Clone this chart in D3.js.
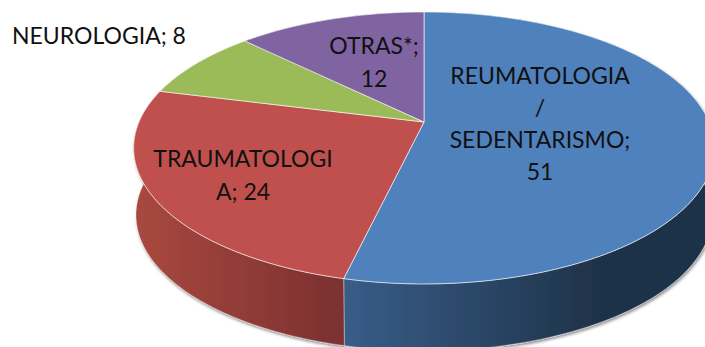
<!DOCTYPE html>
<html>
<head>
<meta charset="utf-8">
<script src="https://cdn.jsdelivr.net/npm/d3@7"></script>
<style>
    html, body { margin: 0; padding: 0; background: #fff; }
    svg { display: block; }
    text { font-family: Lato, "Open Sans", sans-serif; font-size: 23px; fill: #111; }
</style>
</head>
<body>
<div id="chart"></div>
<script>
// Chart data
const categories = ["REUMATOLOGIA / SEDENTARISMO", "TRAUMATOLOGIA", "NEUROLOGIA", "OTRAS*"];
const values = [51, 24, 8, 12];
const labelLines = [
    ["REUMATOLOGIA", "/", "SEDENTARISMO;", "51"],
    ["TRAUMATOLOGI", "A; 24"],
    ["NEUROLOGIA; 8"],
    ["OTRAS*;", "12"]
];

const width = 705, height = 347;
const topColors = ["#4f81bd", "#c0504d", "#9bbb59", "#8064a2"];
const wallColors = [["#385d88", "#1f3249"], ["#a8483f", "#7a302f"], ["#7d9847", "#7d9847"], ["#674f84", "#674f84"]];
const labelX = [540, 243, 99, 374];
const labelY = [78, 161, 38, 48];
const lineGap = [32, 33, 0, 33];

// pie seen from above: the circle goes through a perspective map
const apexX = 424, apexY = 122;
const radiusX = 285, radiusY = 131, tilt = -0.191;
const depth = 67;

function project(angle, lower) {
    const u = Math.sin(angle), v = -Math.cos(angle);
    const w = 1 + tilt * v;
    const shrink = lower ? 0.992 : 1;
    return [
        apexX + shrink * radiusX * u / w,
        apexY + radiusY * v / w + (lower ? depth : 0)
    ];
}

function arcPoints(a0, a1, lower) {
    const n = Math.max(2, Math.ceil((a1 - a0) / 0.02));
    return d3.range(n + 1).map(i => project(a0 + (a1 - a0) * i / n, lower));
}

const pie = d3.pie().sort(null)(values);
const line = d3.line();

const svg = d3.select("#chart").append("svg")
    .attr("width", width)
    .attr("height", height);

const defs = svg.append("defs");
const shadow = defs.append("filter").attr("id", "wallShadow")
    .attr("x", "-5%").attr("y", "-5%").attr("width", "110%").attr("height", "115%");
shadow.append("feDropShadow")
    .attr("dx", 1).attr("dy", 2).attr("stdDeviation", 1.5)
    .attr("flood-color", "#000").attr("flood-opacity", 0.45);

// one horizontal gradient per wall, running over the span of that wall
pie.forEach((d, i) => {
    const xs = arcPoints(d.startAngle, d.endAngle, false).map(p => p[0]);
    const grad = defs.append("linearGradient")
        .attr("id", "wall" + i)
        .attr("gradientUnits", "userSpaceOnUse")
        .attr("x1", i == 1 ? 140 : d3.min(xs))
        .attr("x2", i == 1 ? 345 : (i == 0 ? 600 : d3.max(xs)))
        .attr("y1", 0).attr("y2", 0);
    grad.append("stop").attr("offset", "0%").attr("stop-color", wallColors[i][0]);
    grad.append("stop").attr("offset", "100%").attr("stop-color", wallColors[i][1]);
});

// walls first, the top faces hide whatever is behind
const walls = svg.append("g").attr("filter", "url(#wallShadow)");
walls.selectAll("path")
    .data(pie)
    .enter()
    .append("path")
    .attr("d", d => {
        const upper = arcPoints(d.startAngle, d.endAngle, false);
        const lower = arcPoints(d.startAngle, d.endAngle, true).reverse();
        return line(upper.concat(lower)) + "Z";
    })
    .attr("fill", (d, i) => "url(#wall" + i + ")")
    .attr("stroke", "rgba(255,255,255,0.45)")
    .attr("stroke-width", 0.8);

// top faces
svg.append("g").selectAll("path")
    .data(pie)
    .enter()
    .append("path")
    .attr("d", d => line([[apexX, apexY]].concat(arcPoints(d.startAngle, d.endAngle, false))) + "Z")
    .attr("fill", (d, i) => topColors[i])
    .attr("stroke", "rgba(255,255,255,0.6)")
    .attr("stroke-width", 1)
    .attr("stroke-linejoin", "round");

// data labels
const labels = svg.append("g").selectAll("text")
    .data(categories)
    .enter()
    .append("text")
    .attr("text-anchor", "middle");

labels.selectAll("tspan")
    .data((d, i) => labelLines[i].map((t, j) => ({ t: t, x: labelX[i], y: labelY[i] + j * lineGap[i] })))
    .enter()
    .append("tspan")
    .attr("x", d => d.x)
    .attr("y", d => d.y)
    .attr("dominant-baseline", "middle")
    .text(d => d.t);
</script>
</body>
</html>
